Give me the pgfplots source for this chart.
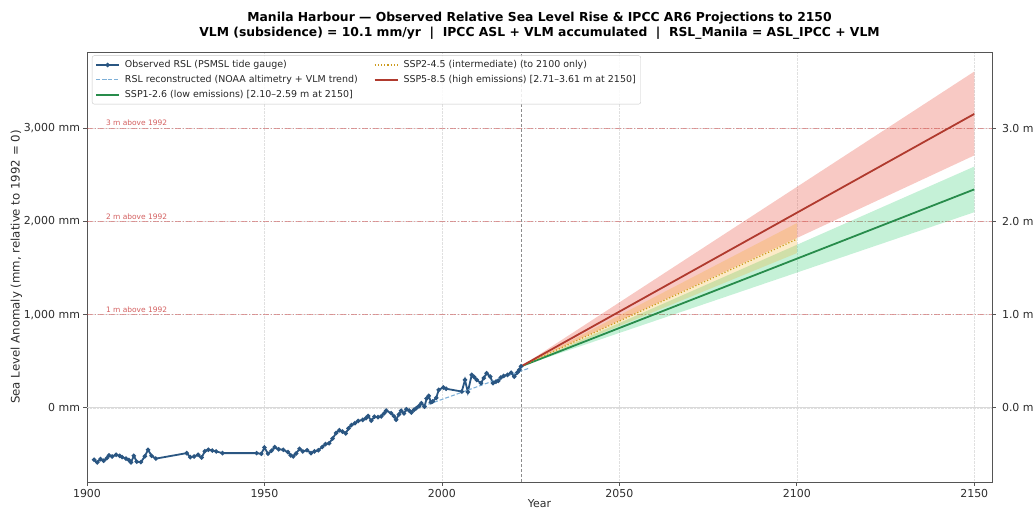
\documentclass[border=0pt]{standalone}
\usepackage{fontspec}
\setmainfont{DejaVu Sans}
\usepackage{pgfplots}
\pgfplotsset{compat=1.18}

\definecolor{obsblue}{RGB}{42,86,130}
\definecolor{reconblue}{RGB}{125,175,215}
\definecolor{sspgreen}{RGB}{40,140,75}
\definecolor{sspgreenfill}{RGB}{46,204,113}
\definecolor{sspred}{RGB}{176,58,46}
\definecolor{sspredfill}{RGB}{231,76,60}
\definecolor{sspgold}{RGB}{205,155,30}
\definecolor{sspgoldfill}{RGB}{243,170,20}
\definecolor{refred}{RGB}{200,55,55}
\definecolor{spine}{RGB}{85,85,85}
\definecolor{ticktext}{RGB}{45,45,45}

\begin{document}
\begin{tikzpicture}
\pgfplotsset{
  every axis/.append style={
    scale only axis, width=905bp, height=430bp,
    xmin=1900, xmax=2155, ymin=-796, ymax=3820,
    axis line style={spine, line width=0.8bp},
    tick style={spine, line width=0.8bp},
    major tick length=3.5bp, tick align=outside,
    tick label style={font=\fontsize{11}{13}\selectfont, text=ticktext},
  },
}
\begin{axis}[
  tick pos=left,
  xtick={1900,1950,2000,2050,2100,2150},
  xticklabels={1900,1950,2000,2050,2100,2150},
  ytick={0,1000,2000,3000},
  yticklabels={{0 mm},{1,000 mm},{2,000 mm},{3,000 mm}},
  grid=major,
  grid style={black!12, densely dotted, line width=0.6bp},
  xlabel={Year},
  ylabel={Sea Level Anomaly (mm, relative to 1992 = 0)},
  every axis x label/.style={at={(axis description cs:0.5,-0.0405)}, anchor=north,
    inner sep=0pt, font=\fontsize{11}{13}\selectfont, text=ticktext},
  every axis y label/.style={at={(axis description cs:-0.0779,0.5)}, anchor=center,
    rotate=90, inner sep=0pt, font=\fontsize{11.8}{13}\selectfont, text=ticktext},
  legend columns=2,
  legend cell align=left,
  legend style={
    at={(axis description cs:0,1)}, anchor=north west, xshift=5bp, yshift=-3.5bp,
    draw=black!22, rounded corners=2bp, fill=white, fill opacity=0.85,
    draw opacity=1, text opacity=1,
    font=\fontsize{9.5}{11}\selectfont, text=black!85,
    column sep=3bp, row sep=2.2bp, inner xsep=3bp, inner ysep=3bp,
  },
  legend image code/.code={\draw[mark repeat=2,mark phase=2,#1]
    plot coordinates {(0bp,0bp) (11.5bp,0bp) (23bp,0bp)};},
]
\coordinate (bl) at (rel axis cs:0,0);
\coordinate (tr) at (rel axis cs:1,1);
\coordinate (tc) at (rel axis cs:0.5,1);

% zero line
\addplot[black!15, line width=0.7bp, forget plot] coordinates {(1900,0) (2155,0)};

% 1 m / 2 m / 3 m reference levels
\addplot[refred, opacity=0.45, line width=0.9bp, dash pattern=on 6bp off 2bp on 1bp off 2bp, forget plot]
  coordinates {(1900,1000) (2155,1000)};
\addplot[refred, opacity=0.45, line width=0.9bp, dash pattern=on 6bp off 2bp on 1bp off 2bp, forget plot]
  coordinates {(1900,2000) (2155,2000)};
\addplot[refred, opacity=0.45, line width=0.9bp, dash pattern=on 6bp off 2bp on 1bp off 2bp, forget plot]
  coordinates {(1900,3000) (2155,3000)};
\node[anchor=base west, inner sep=0pt, font=\fontsize{7.5}{9}\selectfont, text=refred, text opacity=0.8, yshift=2.5bp]
  at (axis cs:1905.3,1000) {1 m above 1992};
\node[anchor=base west, inner sep=0pt, font=\fontsize{7.5}{9}\selectfont, text=refred, text opacity=0.8, yshift=2.5bp]
  at (axis cs:1905.3,2000) {2 m above 1992};
\node[anchor=base west, inner sep=0pt, font=\fontsize{7.5}{9}\selectfont, text=refred, text opacity=0.8, yshift=2.5bp]
  at (axis cs:1905.3,3000) {3 m above 1992};

% start of projections
\addplot[black!45, line width=0.7bp, dash pattern=on 3bp off 2bp, forget plot]
  coordinates {(2022.3,-796) (2022.3,3820)};

% projection ranges (IPCC AR6 ASL + VLM)
\addplot[draw=none, fill=sspgreenfill, fill opacity=0.28, forget plot]
  coordinates {(2022.3,445) (2100,1750) (2150,2590) (2150,2100) (2100,1452) (2022.3,445)};
\addplot[draw=none, fill=sspredfill, fill opacity=0.30, forget plot]
  coordinates {(2022.3,445) (2100,2371) (2150,3610) (2150,2710) (2100,1823) (2022.3,445)};
\addplot[draw=none, fill=sspgoldfill, fill opacity=0.24, forget plot]
  coordinates {(2022.3,445) (2100,1983) (2100,1661) (2022.3,445)};

% observed tide gauge record
\addplot[obsblue, line width=1.8bp, mark=*, mark size=1.2bp,
  mark options={solid, fill=obsblue, draw=obsblue}, forget plot] table {
1902.0 -557
1902.9 -586
1903.8 -550
1904.7 -568
1905.6 -540
1906.2 -511
1907.1 -522
1908.2 -504
1909.2 -515
1909.9 -529
1911.0 -545
1911.8 -560
1912.4 -586
1913.2 -515
1914.0 -578
1915.2 -582
1916.3 -520
1917.2 -450
1918.2 -515
1919.4 -545
1928.1 -486
1929.1 -529
1930.2 -522
1931.3 -504
1932.3 -533
1933.2 -465
1934.2 -450
1935.3 -458
1936.4 -468
1938.2 -486
1947.8 -486
1949.1 -493
1950.0 -425
1951.0 -493
1952.0 -460
1952.9 -421
1954.0 -445
1955.3 -450
1956.6 -475
1957.4 -510
1958.1 -522
1958.9 -490
1959.9 -440
1960.8 -468
1962.0 -455
1963.1 -486
1964.1 -468
1965.2 -455
1966.3 -420
1967.2 -390
1968.2 -380
1969.2 -330
1970.2 -270
1971.1 -240
1972.0 -255
1972.9 -275
1973.7 -220
1974.5 -185
1975.5 -165
1976.4 -140
1977.7 -130
1978.6 -110
1979.2 -88
1980.1 -138
1981.0 -95
1982.0 -100
1982.9 -92
1983.7 -60
1984.3 -30
1985.7 -57
1986.5 -90
1987.1 -128
1987.9 -70
1988.5 -30
1989.3 -60
1990.0 -15
1990.8 -30
1991.4 -50
1992.2 -20
1992.8 -3
1993.6 20
1994.2 50
1995.1 14
1995.7 100
1996.3 129
1996.9 60
1997.4 68
1998.4 107
1999.1 193
2000.4 218
2001.2 205
2005.6 175
2006.5 300
2007.3 170
2008.4 354
2009.1 330
2009.8 300
2011.0 265
2011.8 320
2012.6 372
2013.6 335
2014.4 265
2015.2 280
2015.9 290
2016.6 325
2017.4 343
2018.5 354
2019.5 378
2020.4 335
2021.3 380
2021.8 407
2022.3 445
};

% reconstructed RSL (altimetry + VLM trend)
\addplot[reconblue, line width=1.1bp, dash pattern=on 4bp off 2bp, forget plot] table {
1993.0 -5
2000.0 90
2008.0 200
2016.0 310
2024.5 425
};

% scenario medians
\addplot[sspgreen, line width=1.8bp, forget plot]
  coordinates {(2022.3,445) (2050,857) (2100,1601) (2150,2345)};
\addplot[sspgold, line width=1.2bp, dash pattern=on 1.2bp off 2bp, forget plot]
  coordinates {(2022.3,445) (2050,932) (2100,1811)};
\addplot[sspred, line width=1.8bp, forget plot]
  coordinates {(2022.3,445) (2050,1033) (2100,2094) (2150,3155)};

% legend, filled row by row
\addlegendimage{obsblue, line width=1.8bp, mark=*, mark size=1.2bp, mark options={solid, fill=obsblue}}
\addlegendentry{Observed RSL (PSMSL tide gauge)}
\addlegendimage{sspgold, line width=1.2bp, dash pattern=on 1.2bp off 2bp}
\addlegendentry{SSP2-4.5 (intermediate) (to 2100 only)}
\addlegendimage{reconblue, line width=1.1bp, dash pattern=on 4bp off 2bp}
\addlegendentry{RSL reconstructed (NOAA altimetry + VLM trend)\rule{11bp}{0pt}}
\addlegendimage{sspred, line width=1.8bp}
\addlegendentry{SSP5-8.5 (high emissions) [2.71–3.61 m at 2150]}
\addlegendimage{sspgreen, line width=1.8bp}
\addlegendentry{SSP1-2.6 (low emissions) [2.10–2.59 m at 2150]}
\end{axis}

% right-hand axis in metres
\begin{axis}[
  axis y line*=right, axis x line=none,
  ymin=-0.796, ymax=3.82,
  ytick={0,1,2,3},
  yticklabels={{0.0 m},{1.0 m},{2.0 m},{3.0 m}},
  yticklabel style={xshift=3bp},
]
\end{axis}

% two-line title
\node[anchor=base, inner sep=0pt, font=\fontsize{12.4}{14}\selectfont\bfseries]
  at ([yshift=30.5bp]tc)
  {Manila Harbour — Observed Relative Sea Level Rise \& IPCC AR6 Projections to 2150};
\node[anchor=base, inner sep=0pt, font=\fontsize{12.4}{14}\selectfont\bfseries]
  at ([yshift=15bp]tc)
  {VLM (subsidence) = 10.1 mm/yr \ | \ IPCC ASL + VLM accumulated \ | \ RSL\_Manila = ASL\_IPCC + VLM};

\pgfresetboundingbox
\path[use as bounding box] ([xshift=-87bp, yshift=-29bp]bl) rectangle ([xshift=44bp, yshift=52bp]tr);
\end{tikzpicture}
\end{document}
